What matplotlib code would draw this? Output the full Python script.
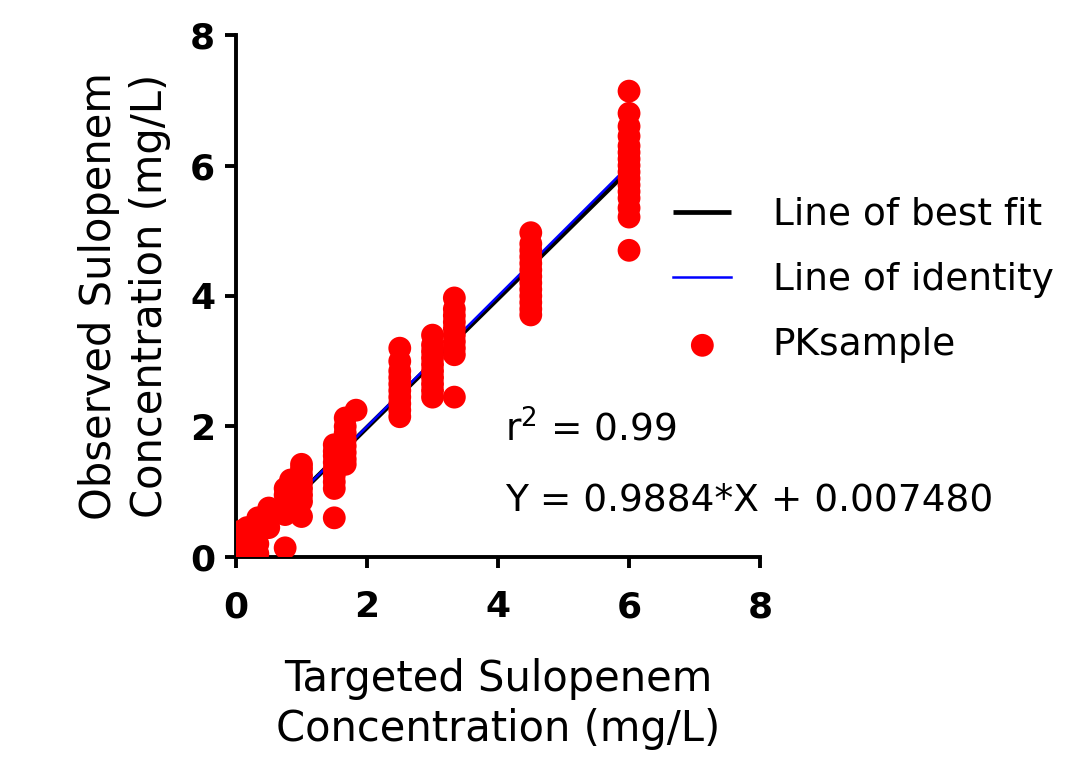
import numpy as np
import matplotlib
matplotlib.use("Agg")
import matplotlib.pyplot as plt

plt.rcParams["font.family"] = ["DejaVu Sans"]

# Targeted concentration (mg/L) for each sample group
targets = [0.0, 0.083, 0.167, 0.333, 0.5, 0.75, 0.833, 1.0, 1.5, 1.667, 1.833,
           2.5, 3.0, 3.333, 4.5, 6.0]

# Observed concentrations (mg/L) read per target group
observed = [
    [0.05, 0.15, 0.25, 0.35],
    [0.02, 0.1, 0.2, 0.3, 0.4],
    [0.05, 0.15, 0.3, 0.45],
    [0.05, 0.2, 0.35, 0.5, 0.6],
    [0.45, 0.55, 0.65, 0.75],
    [0.14, 0.65, 0.8, 0.95, 1.05],
    [0.7, 0.85, 1.0, 1.1, 1.18],
    [0.62, 0.85, 0.95, 1.05, 1.15, 1.25, 1.35, 1.42],
    [0.6, 1.05, 1.15, 1.25, 1.35, 1.45, 1.55, 1.62, 1.72],
    [1.42, 1.5, 1.6, 1.7, 1.8, 1.9, 2.0, 2.13],
    [2.25],
    [2.15, 2.25, 2.35, 2.45, 2.55, 2.65, 2.75, 2.85, 3.0, 3.2],
    [2.45, 2.55, 2.65, 2.75, 2.85, 2.95, 3.05, 3.15, 3.25, 3.4],
    [2.45, 3.1, 3.2, 3.3, 3.4, 3.5, 3.6, 3.7, 3.8, 3.97],
    [3.71, 3.8, 3.9, 4.0, 4.1, 4.2, 4.3, 4.4, 4.5, 4.6, 4.7, 4.8, 4.97],
    [4.7, 5.21, 5.35, 5.5, 5.6, 5.7, 5.8, 5.9, 6.0, 6.1, 6.2, 6.3, 6.45,
     6.6, 6.8, 7.14],
]

fit_slope = 0.9884
fit_intercept = 0.007480
r_squared = 0.99
line_range = [0.0, 6.0]


def main():
    fig = plt.figure(figsize=(10.66, 7.58), dpi=100)
    ax = fig.add_axes([0.2214, 0.2652, 0.4916, 0.6886])

    xs = [t for t, obs in zip(targets, observed) for _ in obs]
    ys = [v for obs in observed for v in obs]

    line_x = np.array(line_range)
    ax.plot(line_x, fit_slope * line_x + fit_intercept, color="black", lw=3.4,
            solid_capstyle="butt", zorder=2, label="Line of best fit")
    ax.plot(line_x, line_x, color="#0000ff", lw=1.8, zorder=2.5,
            label="Line of identity")
    ax.scatter(xs, ys, s=270, color="#ff0000", edgecolors="none", zorder=3,
               label="PKsample")

    ax.set_xlim(0, 8)
    ax.set_ylim(0, 8)
    ax.set_xticks([0, 2, 4, 6, 8])
    ax.set_yticks([0, 2, 4, 6, 8])
    for side in ["top", "right"]:
        ax.spines[side].set_visible(False)
    for side in ["left", "bottom"]:
        ax.spines[side].set_linewidth(2.8)
    ax.tick_params(width=2.8, length=8, direction="out", labelsize=26)
    ax.tick_params(axis="x", pad=16)
    ax.tick_params(axis="y", pad=7)
    for lbl in ax.get_xticklabels() + ax.get_yticklabels():
        lbl.set_fontweight("bold")

    ax.set_xlabel("Targeted Sulopenem\nConcentration (mg/L)", fontsize=30,
                  labelpad=24, linespacing=1.25)
    ax.set_ylabel("Observed Sulopenem\nConcentration (mg/L)", fontsize=30,
                  labelpad=14, linespacing=1.25)

    ax.text(4.1, 1.95, "r$^2$ = %.2f" % r_squared, fontsize=27, va="center")
    ax.text(4.1, 0.87, "Y = %.4f*X + %.6f" % (fit_slope, fit_intercept),
            fontsize=27, va="center")

    ax.legend(loc="upper left", bbox_to_anchor=(0.77, 0.755), frameon=False,
              fontsize=27, handlelength=1.55, handletextpad=1.1,
              labelspacing=0.78, markerscale=1.0)

    fig.savefig("out.png", dpi=100)
    plt.close(fig)


if __name__ == "__main__":
    main()
